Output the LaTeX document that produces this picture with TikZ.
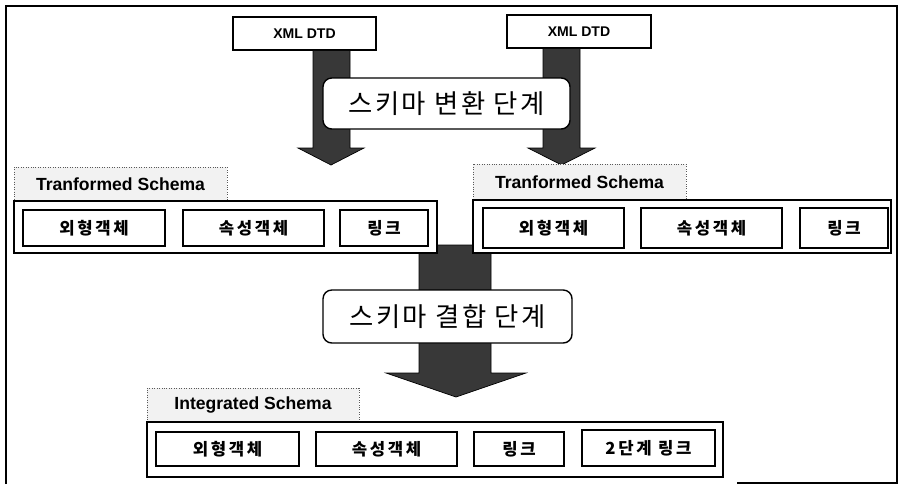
\documentclass[tikz,border=0pt]{standalone}
\usepackage{fontspec}
\setmainfont{Liberation Sans}
\newfontfamily\kr[LetterSpace=16]{Noto Sans CJK KR}
\newfontfamily\krbig[LetterSpace=9]{Noto Sans CJK KR}
\begin{document}
\begin{tikzpicture}[x=0.02cm,y=-0.02cm,
  box/.style={draw=black, line width=0.7pt, fill=white, inner sep=0pt},
  dtd/.style={box, font=\fontsize{8}{9}\selectfont\bfseries},
  item/.style={box, font=\kr\fontsize{9.5}{10}\selectfont\bfseries},
  tab/.style={draw=black!65, densely dotted, fill=black!5, inner sep=0pt, font=\fontsize{10}{11}\selectfont\bfseries},
  panel/.style={draw=black, line width=0.8pt, fill=white, inner sep=0pt},
  stage/.style={draw=black, line width=0.8pt, fill=white, rounded corners=5pt, inner sep=0pt, font=\krbig\fontsize{15}{17}\selectfont},
  blockarrow/.style={fill=black!78, draw=black, line width=0.4pt}
]
\useasboundingbox (0,0) rectangle (898,484);
% frame
\draw[line width=0.8pt] (6,484) -- (6,6) -- (897,6) -- (897,484);
\draw[line width=0.8pt] (737,483) -- (898,483);

% sources
\node[dtd, minimum width=143*0.02cm, minimum height=33*0.02cm] (dtdL) at (304.5,33.5) {XML DTD};
\node[dtd, minimum width=144*0.02cm, minimum height=33*0.02cm] (dtdR) at (579,31.5) {XML DTD};

% arrows from DTDs
\coordinate (tipL) at (331,165);
\coordinate (tipR) at (561.5,165);
\fill[blockarrow] (dtdL.south -| 313,0) -- (313,148) -- (298,148) -- (tipL) -- (364,148) -- (350,148) -- (dtdL.south -| 350,0) -- cycle;
\fill[blockarrow] (dtdR.south -| 543,0) -- (543,148) -- (528,148) -- (tipR) -- (595,148) -- (580,148) -- (dtdR.south -| 580,0) -- cycle;

\node[stage, minimum width=247*0.02cm, minimum height=51*0.02cm] (stage1) at (446.5,103.5) {스키마 변환 단계};

% middle arrow (behind panels)
\coordinate (tipM) at (456,397);
\fill[blockarrow] (419,245) -- (419,373) -- (386,373) -- (tipM) -- (526,373) -- (491,373) -- (491,245) -- cycle;

% left transformed schema
\node[tab, minimum width=213*0.02cm, minimum height=34*0.02cm] (tabL) at (120.5,184) {Tranformed Schema};
\node[panel, minimum width=423*0.02cm, minimum height=52*0.02cm] (panL) at (225.5,227) {};
\node[item, minimum width=142*0.02cm, minimum height=36*0.02cm] (l1) at (94,228) {외형객체};
\node[item, minimum width=141*0.02cm, minimum height=36*0.02cm] (l2) at (253.5,228) {속성객체};
\node[item, minimum width=88*0.02cm, minimum height=36*0.02cm] (l3) at (384,228) {링크};

% right transformed schema
\node[tab, minimum width=213*0.02cm, minimum height=36*0.02cm] (tabR) at (579.5,182) {Tranformed Schema};
\node[panel, minimum width=418*0.02cm, minimum height=53*0.02cm] (panR) at (682,226.5) {};
\node[item, minimum width=141*0.02cm, minimum height=40*0.02cm] (r1) at (553.5,228) {외형객체};
\node[item, minimum width=141*0.02cm, minimum height=40*0.02cm] (r2) at (711.5,228) {속성객체};
\node[item, minimum width=88*0.02cm, minimum height=40*0.02cm] (r3) at (844,228) {링크};

\node[stage, minimum width=249*0.02cm, minimum height=53*0.02cm] (stage2) at (447.5,316.5) {스키마 결합 단계};

% integrated schema
\node[tab, minimum width=212*0.02cm, minimum height=34*0.02cm] (tabI) at (253,405) {Integrated Schema};
\node[panel, minimum width=576*0.02cm, minimum height=55*0.02cm] (panI) at (435,449.5) {};
\node[item, minimum width=143*0.02cm, minimum height=34*0.02cm] (i1) at (227.5,449) {외형객체};
\node[item, minimum width=141*0.02cm, minimum height=34*0.02cm] (i2) at (386.5,449) {속성객체};
\node[item, minimum width=90*0.02cm, minimum height=34*0.02cm] (i3) at (519,449) {링크};
\node[item, minimum width=133*0.02cm, minimum height=36*0.02cm] (i4) at (648.5,448) {2단계 링크};
\end{tikzpicture}
\end{document}
